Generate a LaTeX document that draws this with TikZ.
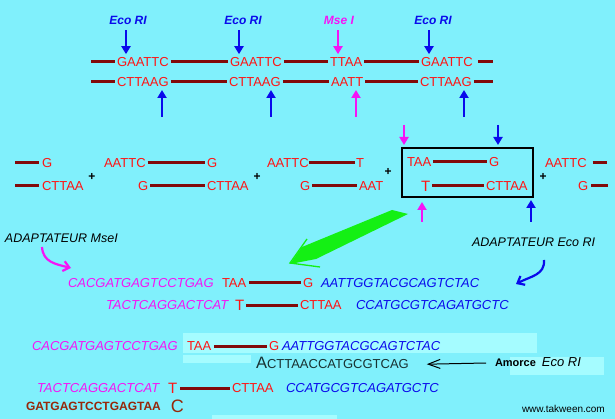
\documentclass[tikz,border=0pt]{standalone}
\usepackage{fontspec}
\setmainfont{Liberation Sans}
\usetikzlibrary{arrows.meta}
\definecolor{bgc}{RGB}{128,240,252}
\definecolor{pale}{RGB}{165,252,255}
\definecolor{dnared}{RGB}{255,20,20}
\definecolor{strandc}{RGB}{130,10,10}
\definecolor{ecoblue}{RGB}{10,10,235}
\definecolor{msemag}{RGB}{245,20,245}
\definecolor{primc}{RGB}{25,50,50}
\definecolor{brownc}{RGB}{150,40,10}
\definecolor{arrowgreen}{RGB}{20,240,20}
\begin{document}
\begin{tikzpicture}[x=1pt,y=-1pt,
  every node/.style={inner sep=0pt, outer sep=0pt, anchor=west},
  seq/.style={font=\fontsize{13}{15}\selectfont, text=dnared},
  bigT/.style={font=\fontsize{15}{17}\selectfont, text=dnared},
  adm/.style={font=\fontsize{13}{15}\selectfont\itshape, text=msemag},
  ade/.style={font=\fontsize{13}{15}\selectfont\itshape, text=ecoblue},
  enz/.style={font=\fontsize{12}{14}\selectfont\bfseries\itshape, anchor=center},
  captxt/.style={font=\fontsize{12.5}{14}\selectfont\itshape, text=black},
  plus/.style={font=\fontsize{12}{12}\selectfont\bfseries, anchor=center},
  primer/.style={font=\fontsize{13}{15}\selectfont, text=primc},
  strand/.style={draw=strandc, line width=3pt},
  gap/.style={shorten <=2pt, shorten >=2pt},
  cut/.style={line width=2.5pt, -{Triangle[length=8pt,width=9pt]}},
  curv/.style={line width=2.2pt, -{Straight Barb[length=6pt,width=10pt]}},
  fragbox/.style={draw=black, line width=2pt}]
\useasboundingbox (0,0) rectangle (615,419);
\fill[bgc] (0,0) rectangle (615,419);
% pale patches
\fill[pale] (183,333) rectangle (537,353);
\fill[pale] (183,355) rectangle (251,363);
\fill[pale] (510,357) rectangle (604,375);
\fill[pale] (212,415) rectangle (337,419);

% ---------- section 1 ----------
\node[enz, text=ecoblue] (e1) at (128,20) {Eco RI};
\node[enz, text=ecoblue] (e2) at (243,20) {Eco RI};
\node[enz, text=msemag] (m1) at (339,20) {Mse I};
\node[enz, text=ecoblue] (e3) at (433,20) {Eco RI};
\draw[cut, ecoblue] (e1.south) ++(-2,6) -- ++(0,24);
\draw[cut, ecoblue] (e2.south) ++(-4,6) -- ++(0,24);
\draw[cut, msemag] (m1.south) ++(-1,6) -- ++(0,24);
\draw[cut, ecoblue] (e3.south) ++(-4,6) -- ++(0,24);

\coordinate (ta) at (91,62);
\node[seq] (t1) at (117,62) {GAATTC};
\node[seq] (t2) at (230,62) {GAATTC};
\node[seq] (t3) at (330,62) {TTAA};
\node[seq] (t4) at (421,62) {GAATTC};
\coordinate (tb) at (493,62);
\draw[strand] (ta) -- ([xshift=-2pt]t1.west);
\draw[strand, gap] (t1.east) -- (t2.west);
\draw[strand, gap] (t2.east) -- (t3.west);
\draw[strand, gap] (t3.east) -- (t4.west);
\draw[strand] ([xshift=5pt]t4.east) -- (tb);

\coordinate (ba) at (91,82);
\node[seq] (b1) at (117,82) {CTTAAG};
\node[seq] (b2) at (229,82) {CTTAAG};
\node[seq] (b3) at (331,82) {AATT};
\node[seq] (b4) at (420,82) {CTTAAG};
\coordinate (bb) at (493,82);
\draw[strand] (ba) -- ([xshift=-2pt]b1.west);
\draw[strand, gap] (b1.east) -- (b2.west);
\draw[strand, gap] (b2.east) -- (b3.west);
\draw[strand, gap] (b3.east) -- (b4.west);
\draw[strand] ([xshift=2pt]b4.east) -- (bb);

\coordinate (u1) at (162,117);
\coordinate (u2) at (271,117);
\coordinate (u3) at (356,117);
\coordinate (u4) at (464,117);
\draw[cut, ecoblue] (u1) -- ++(0,-27);
\draw[cut, ecoblue] (u2) -- ++(0,-27);
\draw[cut, msemag] (u3) -- ++(0,-27);
\draw[cut, ecoblue] (u4) -- ++(0,-27);

% ---------- section 2 ----------
\coordinate (f1a) at (15,163);
\node[seq] (f1g) at (42,163) {G};
\draw[strand] (f1a) -- ([xshift=-3pt]f1g.west);
\coordinate (f1b) at (15,186);
\node[seq] (f1c) at (42,186) {CTTAA};
\draw[strand] (f1b) -- ([xshift=-3pt]f1c.west);
\node[plus] (p1) at (92,177) {+};

\node[seq] (f2a) at (104,163) {AATTC};
\node[seq] (f2g) at (207,163) {G};
\draw[strand, gap] (f2a.east) -- (f2g.west);
\node[seq] (f2h) at (138,186) {G};
\node[seq] (f2c) at (207,186) {CTTAA};
\draw[strand, gap] (f2h.east) -- (f2c.west);
\node[plus] (p2) at (257,177) {+};

\node[seq] (f3a) at (267,163) {AATTC};
\node[seq] (f3t) at (356,163) {T};
\draw[strand, shorten >=1pt] (f3a.east) -- (f3t.west);
\node[seq] (f3g) at (300,186) {G};
\node[seq] (f3c) at (359,186) {AAT};
\draw[strand, gap] (f3g.east) -- (f3c.west);
\node[plus] (p3) at (388,172) {+};

\node[fragbox, minimum width=131pt, minimum height=49pt, anchor=north west] (frag) at (402,148) {};
\node[seq] (f4a) at (407,162) {TAA};
\node[seq] (f4g) at (489,162) {G};
\draw[strand, gap] (f4a.east) -- (f4g.west);
\node[bigT] (f4t) at (421,186) {T};
\node[seq] (f4c) at (486,186) {CTTAA};
\draw[strand, gap] (f4t.east) -- (f4t.east -| f4c.west);
\node[plus] (p4) at (543,177) {+};

\node[seq] (f5a) at (545,163) {AATTC};
\coordinate (f5e) at (607,163);
\draw[strand] ([xshift=6pt]f5a.east) -- (f5e);
\node[seq] (f5g) at (578,186) {G};
\coordinate (f5f) at (608,186);
\draw[strand] ([xshift=3pt]f5g.east) -- (f5f);

\coordinate (d1) at (404,125);
\coordinate (d2) at (498,125);
\coordinate (d3) at (422,222);
\coordinate (d4) at (531,222);
\draw[cut, msemag] (d1) -- ++(0,20);
\draw[cut, ecoblue] (d2) -- ++(0,20);
\draw[cut, msemag] (d3) -- ++(0,-20);
\draw[cut, ecoblue] (d4) -- ++(0,-22);

% green arrow
\fill[arrowgreen] (392,210) -- (408,214) -- (316,259) -- (290,264) -- (302,247) -- cycle;
\draw[arrowgreen, line width=1.3pt] (307,239) -- (290,263) -- (320,267);

% ---------- section 3 ----------
\node[captxt] (adm) at (5,238) {ADAPTATEUR MseI};
\coordinate (cm1) at (42,247);
\coordinate (cm2) at (71,268);
\draw[curv, msemag] (cm1) .. controls (43,262) and (55,264) .. (cm2);
\node[captxt] (ade) at (472,242) {ADAPTATEUR Eco RI};
\coordinate (ce1) at (544,260);
\coordinate (ce2) at (516,284);
\draw[curv, ecoblue] (ce1) .. controls (545,275) and (531,276) .. (ce2);

\node[adm] (s3a) at (68,283) {CACGATGAGTCCTGAG};
\node[seq] (s3taa) at (222,283) {TAA};
\node[seq] (s3g) at (303,283) {G};
\node[ade] (s3e) at (321,283) {AATTGGTACGCAGTCTAC};
\draw[strand, shorten <=3pt, shorten >=2pt] (s3taa.east) -- (s3g.west);
\node[adm] (s3b) at (106,305) {TACTCAGGACTCAT};
\node[bigT] (s3t) at (235,305) {T};
\node[seq] (s3c) at (300,305) {CTTAA};
\node[ade] (s3f) at (356,305) {CCATGCGTCAGATGCTC};
\draw[strand, gap] (s3t.east) -- (s3t.east -| s3c.west);

% ---------- section 4 ----------
\node[adm] (s4a) at (32,346) {CACGATGAGTCCTGAG};
\node[seq] (s4taa) at (187,346) {TAA};
\node[seq] (s4g) at (269,346) {G};
\node[ade] (s4e) at (282,346) {AATTGGTACGCAGTCTAC};
\draw[strand, shorten <=3pt, shorten >=2pt] (s4taa.east) -- (s4g.west);

\node[primer, font=\fontsize{16.5}{18}\selectfont] (pA) at (256,363) {A};
\node[primer, anchor=base west] (pB) at (pA.base east) {CTTAACCATGCGTCAG};
\node[font=\fontsize{11}{13}\selectfont\bfseries, text=black] (amo) at (495,363) {Amorce};
\node[font=\fontsize{13}{15}\selectfont\itshape, text=black, anchor=base west] (amoe) at ([xshift=6pt]amo.base east) {Eco RI};
\draw[black, line width=1pt, -{Straight Barb[length=12pt,width=9pt]}] ([xshift=-9pt]amo.west) -- ([xshift=18pt]pB.east);

\node[adm] (s4b) at (37,388) {TACTCAGGACTCAT};
\node[bigT] (s4t) at (168,388) {T};
\node[seq] (s4c) at (232,388) {CTTAA};
\node[ade] (s4f) at (286,388) {CCATGCGTCAGATGCTC};
\draw[strand, shorten <=3pt, shorten >=2pt] (s4t.east) -- (s4t.east -| s4c.west);

\node[font=\fontsize{12}{14}\selectfont\bfseries, text=brownc] (s4d) at (26,406) {GATGAGTCCTGAGTAA};
\node[font=\fontsize{18}{20}\selectfont, text=brownc, anchor=base west] (s4C) at ([xshift=10pt,yshift=-2pt]s4d.base east) {C};

\node[font=\fontsize{10}{12}\selectfont, text=black] (www) at (522,409) {www.takween.com};
\end{tikzpicture}
\end{document}
